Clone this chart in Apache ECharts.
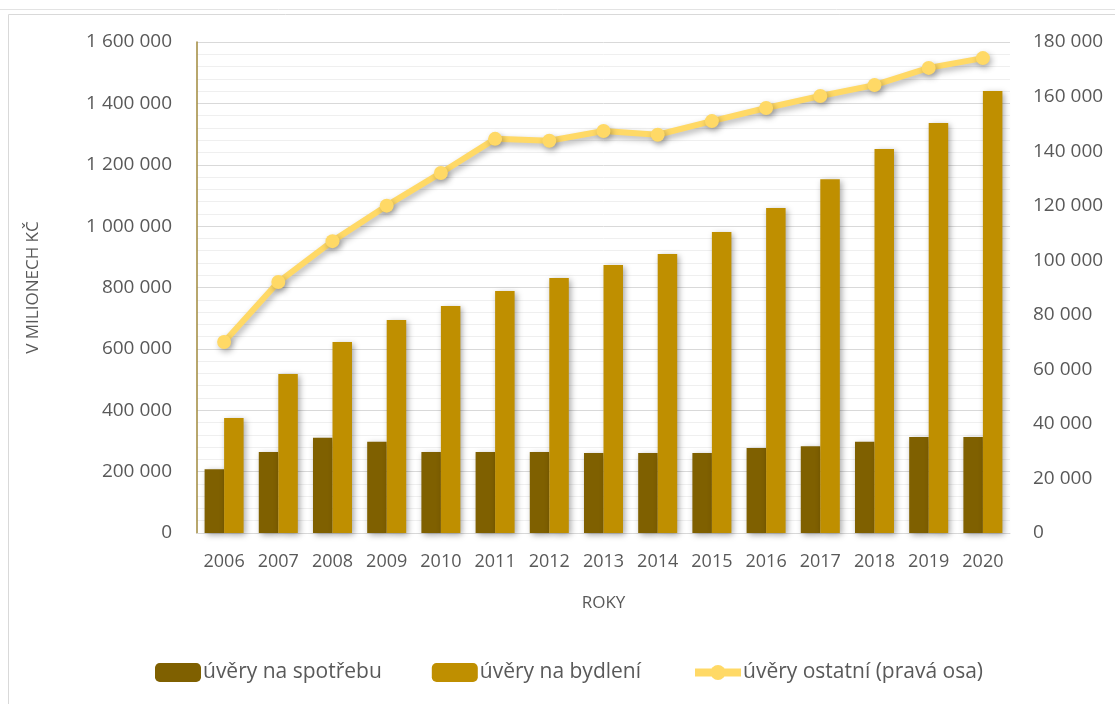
<!DOCTYPE html>
<html>
<head>
<meta charset="utf-8">
<script src="https://cdn.jsdelivr.net/npm/echarts@6/dist/echarts.min.js"></script>
<style>
  html, body { margin: 0; padding: 0; background: #fff; }
  #chart { width: 1115px; height: 704px; }
</style>
</head>
<body>
<div id="chart"></div>
<script>
const years = ['2006', '2007', '2008', '2009', '2010', '2011', '2012', '2013', '2014', '2015', '2016', '2017', '2018', '2019', '2020']
const spotrebu = [208000, 264000, 310000, 297000, 264000, 264000, 264000, 261000, 261000, 261000, 277000, 283000, 297000, 313000, 313000]
const bydleni = [375000, 518000, 622000, 694000, 740000, 789000, 831000, 873000, 909000, 981000, 1059000, 1153000, 1251000, 1336000, 1440000]
const ostatni = [70000, 92000, 107000, 120000, 132000, 144500, 143800, 147400, 146000, 151000, 155800, 160200, 164200, 170500, 174100]

const fmt = v => String(v).replace(/\B(?=(\d{3})+(?!\d))/g, ' ')
const font = 'Open Sans'
const textColor = '#595959'

const chart = echarts.init(document.getElementById('chart'))

const barShadow = {
  shadowColor: 'rgba(0,0,0,0.35)',
  shadowBlur: 6,
  shadowOffsetX: 2,
  shadowOffsetY: 2
}

chart.setOption({
  animation: false,
  textStyle: { fontFamily: font },
  graphic: [
    { type: 'line', shape: { x1: 0, y1: 9.5, x2: 1115, y2: 9.5 }, style: { stroke: '#e3e3e3', lineWidth: 1 } },
    { type: 'rect', shape: { x: 8.5, y: 14.5, width: 1120, height: 700 }, style: { fill: 'none', stroke: '#d9d9d9', lineWidth: 1 } }
  ],
  grid: { left: 197, right: 105, top: 42, bottom: 171 },
  legend: {
    bottom: 16,
    left: 150,
    itemGap: 50,
    itemWidth: 46,
    itemHeight: 19,
    textStyle: { color: textColor, fontSize: 21, fontFamily: font, padding: [0, 0, 0, -3] },
    data: [
      { name: 'úvěry na spotřebu' },
      { name: 'úvěry na bydlení' },
      { name: 'úvěry ostatní (pravá osa)', lineStyle: { width: 8 } }
    ]
  },
  xAxis: {
    type: 'category',
    data: years,
    name: 'ROKY',
    nameLocation: 'middle',
    nameGap: 62,
    nameTextStyle: { color: textColor, fontSize: 17 },
    axisLine: { lineStyle: { color: '#d9d9d9', width: 1 } },
    axisTick: { show: false },
    axisLabel: { color: textColor, fontSize: 18, margin: 20, interval: 0 }
  },
  yAxis: [
    {
      type: 'value',
      min: 0,
      max: 1600000,
      interval: 200000,
      name: 'V MILIONECH KČ',
      nameLocation: 'middle',
      nameGap: 155,
      nameRotate: 90,
      nameTextStyle: { color: textColor, fontSize: 17 },
      axisLine: { show: true, lineStyle: { color: '#a08a3c', width: 1.5 } },
      axisTick: { show: false },
      axisLabel: { color: textColor, fontSize: 19, margin: 25, formatter: fmt },
      splitLine: { lineStyle: { color: '#d9d9d9' } },
      minorTick: { show: false, splitNumber: 5 },
      minorSplitLine: { show: true, lineStyle: { color: '#efefef' } }
    },
    {
      type: 'value',
      min: 0,
      max: 180000,
      interval: 20000,
      axisLine: { show: false },
      axisTick: { show: false },
      axisLabel: { color: textColor, fontSize: 19, margin: 23, formatter: fmt },
      splitLine: { show: false }
    }
  ],
  series: [
    {
      name: 'úvěry na spotřebu',
      type: 'bar',
      data: spotrebu,
      barGap: '0%',
      barCategoryGap: '28%',
      itemStyle: Object.assign({ color: '#7f6000' }, barShadow)
    },
    {
      name: 'úvěry na bydlení',
      type: 'bar',
      data: bydleni,
      itemStyle: Object.assign({ color: '#bf8f00' }, barShadow)
    },
    {
      name: 'úvěry ostatní (pravá osa)',
      type: 'line',
      yAxisIndex: 1,
      data: ostatni,
      symbol: 'circle',
      symbolSize: 14,
      lineStyle: {
        color: '#ffd966',
        width: 6,
        shadowColor: 'rgba(0,0,0,0.3)',
        shadowBlur: 6,
        shadowOffsetX: 2,
        shadowOffsetY: 3
      },
      itemStyle: {
        color: '#ffd966',
        shadowColor: 'rgba(0,0,0,0.3)',
        shadowBlur: 6,
        shadowOffsetX: 2,
        shadowOffsetY: 3
      }
    }
  ]
})
</script>
</body>
</html>
